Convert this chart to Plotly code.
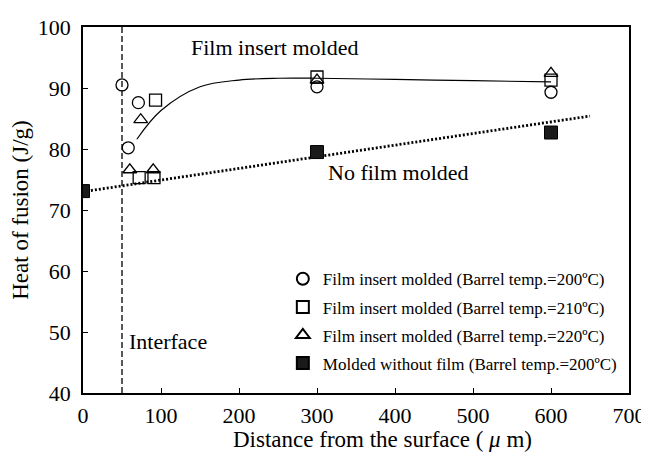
import plotly.graph_objects as go

# Data
circle_x = [50, 71, 58, 300, 600]
circle_y = [90.5, 87.6, 80.2, 90.2, 89.3]
square_x = [72, 91, 93, 300, 600]
square_y = [75.3, 75.3, 88.0, 91.8, 91.3]
triangle_x = [60, 74, 90, 300, 600]
triangle_y = [76.6, 84.8, 76.6, 91.3, 92.4]
filled_x = [0, 300, 600]
filled_y = [73.1, 79.5, 82.7]

curve_x = [69, 100, 150, 200, 250, 300, 400, 500, 600]
curve_y = [81.6, 86.3, 90.2, 91.3, 91.6, 91.6, 91.4, 91.2, 91.0]
trend_x = [0, 650]
trend_y = [73.0, 85.4]
interface_x = [50, 50]
interface_y = [40, 100]

x_ticks = [0, 100, 200, 300, 400, 500, 600, 700]
y_ticks = [40, 50, 60, 70, 80, 90, 100]

FONT = "Liberation Serif, Times New Roman, serif"

fig = go.Figure()

fig.add_trace(go.Scatter(x=interface_x, y=interface_y, mode="lines",
                         line=dict(color="black", width=1.3, dash="6px,3px"),
                         showlegend=False, hoverinfo="skip"))
fig.add_trace(go.Scatter(x=curve_x, y=curve_y, mode="lines",
                         line=dict(color="black", width=1.2, shape="spline"),
                         showlegend=False, hoverinfo="skip"))
fig.add_trace(go.Scatter(x=trend_x, y=trend_y, mode="lines",
                         line=dict(color="black", width=2.8, dash="2px,2px"),
                         showlegend=False, hoverinfo="skip"))

marker_line = dict(color="black", width=1.3)
fig.add_trace(go.Scatter(x=circle_x, y=circle_y, mode="markers", legendgroup="a",
                         name="Film insert molded (Barrel temp.=200ºC)",
                         marker=dict(symbol="circle-open", size=12, color="black", line=marker_line)))
fig.add_trace(go.Scatter(x=square_x, y=square_y, mode="markers", legendgroup="b",
                         name="Film insert molded (Barrel temp.=210ºC)",
                         marker=dict(symbol="square-open", size=12, color="black", line=marker_line)))
fig.add_trace(go.Scatter(x=triangle_x, y=triangle_y, mode="markers", legendgroup="c",
                         name="Film insert molded (Barrel temp.=220ºC)",
                         marker=dict(symbol="triangle-up-open", size=12, color="black", line=marker_line)))
fig.add_trace(go.Scatter(x=filled_x, y=filled_y, mode="markers", legendgroup="d",
                         name="Molded without film (Barrel temp.=200ºC)",
                         marker=dict(symbol="square", size=13, color="#1a1a1a", line=dict(color="black", width=1))))

fig.add_annotation(x=246, y=96.7, text="Film insert molded", showarrow=False,
                   font=dict(family=FONT, size=22, color="black"))
fig.add_annotation(x=404, y=76.1, text="No film molded", showarrow=False,
                   font=dict(family=FONT, size=22, color="black"))
fig.add_annotation(x=57, y=48.5, text="Interface", showarrow=False, xanchor="left",
                   font=dict(family=FONT, size=22, color="black"))
# x-axis title (sits right of the plot centre in the reference)
fig.add_annotation(xref="paper", yref="paper", x=0.548, y=-0.128,
                   xanchor="center", yanchor="middle", showarrow=False,
                   text="Distance from the surface ( <i>μ</i> m)",
                   font=dict(family=FONT, size=23, color="black"))

axis_common = dict(showline=True, linecolor="black", linewidth=1.5, mirror=True,
                   ticks="inside", ticklen=5, tickcolor="black", showgrid=False,
                   zeroline=False, automargin=False,
                   tickfont=dict(family=FONT, size=22, color="black"))

# page body has an 8px default margin, so the figure is sized to fit inside the window
fig.update_layout(
    width=641, height=445,
    margin=dict(l=75, r=20, t=19, b=60),
    paper_bgcolor="white", plot_bgcolor="white",
    font=dict(family=FONT, color="black"),
    xaxis=dict(range=[0, 700], tickvals=x_ticks, ticklabelstandoff=2, **axis_common),
    yaxis=dict(range=[40, 100], tickvals=y_ticks, ticklabelstandoff=6,
               title=dict(text="Heat of fusion (J/g)", font=dict(family=FONT, size=23), standoff=10),
               **axis_common),
    legend=dict(x=0.366, y=0.36, xanchor="left", yanchor="top",
                bgcolor="rgba(0,0,0,0)", font=dict(family=FONT, size=17, color="black"),
                itemsizing="constant", tracegroupgap=3, itemwidth=30),
)

fig.write_html("out.html")
